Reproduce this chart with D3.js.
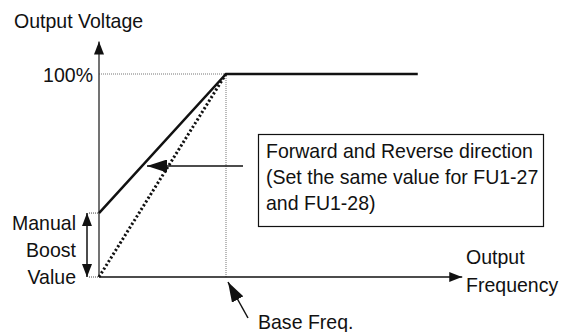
<!DOCTYPE html>
<html>
<head>
<meta charset="utf-8">
<script src="https://cdn.jsdelivr.net/npm/d3@7"></script>
<style>
  body { margin: 0; background: #fff; }
  text { font-family: "Liberation Sans", Arial, sans-serif; fill: #111; }
</style>
</head>
<body>
<script>
// V/F pattern with manual torque boost

// Data in % of base frequency / % of output voltage
var boostFreq = [0, 100, 251],
    boostVolt = [31.5, 100, 100];
var linearFreq = [0, 100],
    linearVolt = [0, 100];
var boostLevel = 31.5,
    baseFreq = 100,
    fullVolt = 100;
var axisMaxFreq = 286,
    axisMaxVolt = 116;
var noteLines = ["Forward and Reverse direction", "(Set the same value for FU1-27", "and FU1-28)"];
var boostLines = ["Manual", "Boost", "Value"];

var width = 564, height = 332;
var fs = 21;

var x = d3.scaleLinear().domain([0, baseFreq]).range([99, 226]);
var y = d3.scaleLinear().domain([0, fullVolt]).range([277, 74]);

var svg = d3.select('body').append('svg')
  .attr('width', width)
  .attr('height', height);

// the source font is a bit narrow, squeeze text horizontally
function label(tx, ty, str, anchor) {
  return svg.append('text')
    .attr('transform', 'translate(' + tx + ',' + ty + ') scale(0.93,1)')
    .attr('font-size', fs)
    .attr('text-anchor', anchor || 'start')
    .text(str);
}

// arrow heads
var defs = svg.append('defs');
function marker(id, w, h) {
  defs.append('marker')
    .attr('id', id)
    .attr('viewBox', '0 0 ' + w + ' ' + h)
    .attr('refX', w).attr('refY', h / 2)
    .attr('markerWidth', w).attr('markerHeight', h)
    .attr('markerUnits', 'userSpaceOnUse')
    .attr('orient', 'auto-start-reverse')
    .append('path')
    .attr('d', 'M0,0L' + w + ',' + h / 2 + 'L0,' + h + 'Z')
    .attr('fill', '#111');
}
marker('head', 13, 10);
marker('big', 20, 13);

// thin dotted guides
var guides = [
  [[0, fullVolt], [baseFreq, fullVolt]],
  [[baseFreq, 0], [baseFreq, fullVolt]]
];
svg.selectAll('.guide').data(guides).enter().append('line')
  .attr('x1', function(d) { return x(d[0][0]); })
  .attr('y1', function(d) { return y(d[0][1]); })
  .attr('x2', function(d) { return x(d[1][0]); })
  .attr('y2', function(d) { return y(d[1][1]); })
  .attr('stroke', '#777').attr('stroke-width', 1)
  .attr('stroke-dasharray', '1,1');

// boost guide ticks left of the axis
[boostLevel, 0].forEach(function(v) {
  svg.append('line')
    .attr('x1', 89).attr('x2', x(0))
    .attr('y1', y(v)).attr('y2', y(v))
    .attr('stroke', '#444').attr('stroke-width', 1)
    .attr('stroke-dasharray', '1,1');
});

// axes
svg.append('line')
  .attr('x1', x(0)).attr('y1', y(0))
  .attr('x2', x(0)).attr('y2', y(axisMaxVolt))
  .attr('stroke', '#444').attr('stroke-width', 1.5)
  .attr('marker-end', 'url(#head)');
svg.append('line')
  .attr('x1', x(0)).attr('y1', y(0))
  .attr('x2', x(axisMaxFreq)).attr('y2', y(0))
  .attr('stroke', '#111').attr('stroke-width', 1.5)
  .attr('marker-end', 'url(#head)');

// curves
var line = d3.line()
  .x(function(d) { return x(d[0]); })
  .y(function(d) { return y(d[1]); });

svg.append('path')
  .datum(d3.zip(linearFreq, linearVolt))
  .attr('d', line)
  .attr('fill', 'none')
  .attr('stroke', '#111').attr('stroke-width', 3)
  .attr('stroke-dasharray', '2.2,2.2');

svg.append('path')
  .datum(d3.zip(boostFreq, boostVolt))
  .attr('d', line)
  .attr('fill', 'none')
  .attr('stroke', '#111').attr('stroke-width', 2.5);

// manual boost double arrow
svg.append('line')
  .attr('x1', 87).attr('x2', 87)
  .attr('y1', y(boostLevel)).attr('y2', y(0))
  .attr('stroke', '#111').attr('stroke-width', 1.5)
  .attr('marker-start', 'url(#head)')
  .attr('marker-end', 'url(#head)');

// note box
svg.append('rect')
  .attr('x', 258.5).attr('y', 134.5)
  .attr('width', 285).attr('height', 92)
  .attr('fill', '#fff')
  .attr('stroke', '#111').attr('stroke-width', 1.2);

noteLines.forEach(function(d, i) { label(266, 158 + i * 26, d); });

// pointer from box to curve
svg.append('line')
  .attr('x1', 243).attr('y1', 166)
  .attr('x2', 147).attr('y2', 166)
  .attr('stroke', '#111').attr('stroke-width', 1.5)
  .attr('marker-end', 'url(#big)');

// base freq pointer
svg.append('line')
  .attr('x1', 248).attr('y1', 318)
  .attr('x2', 228).attr('y2', 282)
  .attr('stroke', '#111').attr('stroke-width', 1.5)
  .attr('marker-end', 'url(#big)');

// labels
label(14, 28, 'Output Voltage');
label(93, 82, '100%', 'end');
boostLines.forEach(function(d, i) { label(76, 230 + i * 27, d, 'end'); });
label(466, 264, 'Output');
label(466, 292, 'Frequency');
label(258, 329, 'Base Freq.');
</script>
</body>
</html>
